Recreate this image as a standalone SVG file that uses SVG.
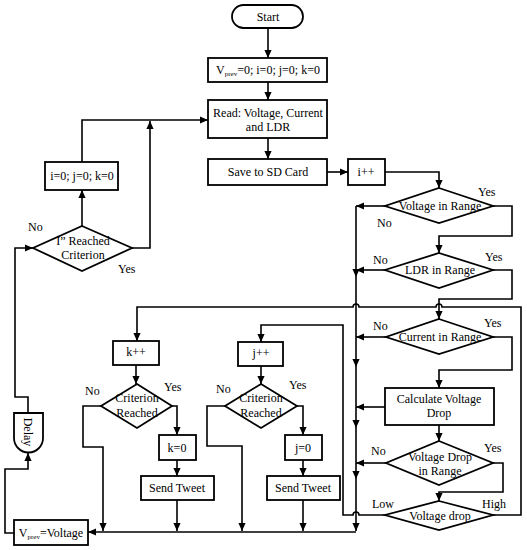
<svg xmlns="http://www.w3.org/2000/svg" width="527" height="550" viewBox="0 0 527 550">
<defs>
<style>
.n{fill:#fff;stroke:#000;stroke-width:1.8}
.t{font-family:"Liberation Serif","Times New Roman",serif;font-size:12px;fill:#000;text-anchor:middle}
.l{font-family:"Liberation Serif","Times New Roman",serif;font-size:12px;fill:#000}
.c{fill:none;stroke:#000;stroke-width:1.6}
.s{font-size:7px}
</style>
<marker id="a" viewBox="0 0 10 10" refX="10" refY="5" markerWidth="8" markerHeight="8" markerUnits="userSpaceOnUse" orient="auto"><path d="M0,0.5 L10,5 L0,9.5 z" fill="#000"/></marker>
</defs>
<rect width="527" height="550" fill="#fff"/>
<g id="connectors" class="c" marker-end="url(#a)">
<path d="M268,28 V58"/>
<path d="M268,82 V100"/>
<path d="M268,138 V159"/>
<path d="M327,172 H348"/>
<path d="M385,172 H439 V188"/>
<path d="M493,206 H512 V236 H439 V253"/>
<path d="M385,206 H356"/>
<path d="M493,270 H512 V299 H439 V319"/>
<path d="M386,270 H356"/>
<path d="M493,337 H512 V370 H439 V388"/>
<path d="M386,337 H356"/>
<path d="M385,407 H356"/>
<path d="M439,425 V441"/>
<path d="M493,463 H503 V492 H439 V501"/>
<path d="M386,463 H356"/>
<path d="M493,515 H521 V307 H442 A3,3 0 0 0 436,307 H359 A3,3 0 0 0 353,307 H137 V341"/>
<path d="M385,515 H359 A3,3 0 0 0 353,515 H343 V325 H261 V342"/>
<path d="M356,206 V277"/>
<path d="M356,277 V367"/>
<path d="M356,367 V428"/>
<path d="M356,428 V479"/>
<path d="M356,479 V531"/>
<path d="M356,532 H88"/>
<path d="M136,365 V384"/>
<path d="M101,406 H83 V447 H103 V531"/>
<path d="M172,406 H177 V435"/>
<path d="M177,460 V476"/>
<path d="M177,500 V531"/>
<path d="M261,366 V384"/>
<path d="M225,406 H207 V446 H242 V531"/>
<path d="M297,406 H303 V435"/>
<path d="M303,460 V476"/>
<path d="M303,500 V531"/>
<path d="M14,533 H5 V469 H28 V453"/>
<path d="M28,413 V397 H15 V248 H33"/>
<path d="M82,226 V190"/>
<path d="M82,162 V120 H208"/>
<path d="M132,248 H150 V121"/>
</g>
<g id="start"><rect class="n" x="232" y="5" width="71" height="23" rx="11.5"/><text class="t" x="268" y="21">Start</text></g>
<g id="init"><rect class="n" x="208" y="58" width="119" height="24"/><text class="t" x="268" y="74">V<tspan class="s" dy="2">prev</tspan><tspan dy="-2">=0; i=0; j=0; k=0</tspan></text></g>
<g id="read"><rect class="n" x="208" y="100" width="119" height="38"/><text class="t" x="268" y="117">Read: Voltage, Current</text><text class="t" x="268" y="131">and LDR</text></g>
<g id="save"><rect class="n" x="208" y="159" width="119" height="26"/><text class="t" x="268" y="176">Save to SD Card</text></g>
<g id="iinc"><rect class="n" x="348" y="159" width="37" height="26"/><text class="t" x="366" y="176">i++</text></g>
<g id="vrange"><polygon class="n" points="439,188 493,206 439,223 385,206"/><text class="t" x="440" y="210">Voltage in Range</text></g>
<g id="ldr"><polygon class="n" points="439,253 493,270 439,288 385,270"/><text class="t" x="440" y="274">LDR in Range</text></g>
<g id="current"><polygon class="n" points="439,319 493,337 439,354 386,337"/><text class="t" x="440" y="341">Current in Range</text></g>
<g id="calc"><rect class="n" x="385" y="388" width="109" height="37"/><text class="t" x="439" y="403">Calculate Voltage</text><text class="t" x="439" y="417">Drop</text></g>
<g id="vdrange"><polygon class="n" points="439,441 493,463 439,485 386,463"/><text class="t" x="440" y="461">Voltage Drop</text><text class="t" x="440" y="475">in Range</text></g>
<g id="vdrop"><polygon class="n" points="439,501 493,515 439,530 385,515"/><text class="t" x="440" y="520">Voltage drop</text></g>
<g id="kinc"><rect class="n" x="113" y="341" width="46" height="24"/><text class="t" x="136" y="356">k++</text></g>
<g id="kcrit"><polygon class="n" points="137,384 172,406 137,428 101,406"/><text class="t" x="137" y="402">Criterion</text><text class="t" x="137" y="417">Reached</text></g>
<g id="kzero"><rect class="n" x="159" y="435" width="37" height="25"/><text class="t" x="177" y="452">k=0</text></g>
<g id="ktweet"><rect class="n" x="141" y="476" width="73" height="24"/><text class="t" x="177" y="492">Send Tweet</text></g>
<g id="jinc"><rect class="n" x="238" y="342" width="45" height="24"/><text class="t" x="261" y="357">j++</text></g>
<g id="jcrit"><polygon class="n" points="261,384 297,406 261,428 225,406"/><text class="t" x="261" y="402">Criterion</text><text class="t" x="261" y="417">Reached</text></g>
<g id="jzero"><rect class="n" x="285" y="435" width="37" height="25"/><text class="t" x="303" y="452">j=0</text></g>
<g id="jtweet"><rect class="n" x="267" y="476" width="73" height="24"/><text class="t" x="303" y="492">Send Tweet</text></g>
<g id="vprev"><rect class="n" x="14" y="520" width="74" height="25"/><text class="t" x="51" y="537">V<tspan class="s" dy="2">prev</tspan><tspan dy="-2">=Voltage</tspan></text></g>
<g id="delay"><path class="n" d="M14,413 H43 V438 A14.5,14.5 0 0 1 14,438 Z"/><text class="t" x="28" y="432" transform="rotate(90 28 432)" dy="4">Delay</text></g>
<g id="icrit"><polygon class="n" points="82,226 132,248 82,271 33,248"/><text class="t" x="83" y="245">I” Reached</text><text class="t" x="83" y="259">Criterion</text></g>
<g id="reset"><rect class="n" x="45" y="162" width="73" height="28"/><text class="t" x="82" y="180">i=0; j=0; k=0</text></g>
<g id="labels" class="l">
<text x="478" y="196">Yes</text><text x="377" y="227">No</text>
<text x="485" y="261">Yes</text><text x="373" y="264">No</text>
<text x="484" y="327">Yes</text><text x="373" y="330">No</text>
<text x="484" y="452">Yes</text><text x="371" y="455">No</text>
<text x="482" y="508">High</text><text x="372" y="508">Low</text>
<text x="164" y="391">Yes</text><text x="85" y="395">No</text>
<text x="289" y="389">Yes</text><text x="216" y="393">No</text>
<text x="118" y="273">Yes</text><text x="28" y="231">No</text>
</g>
</svg>
